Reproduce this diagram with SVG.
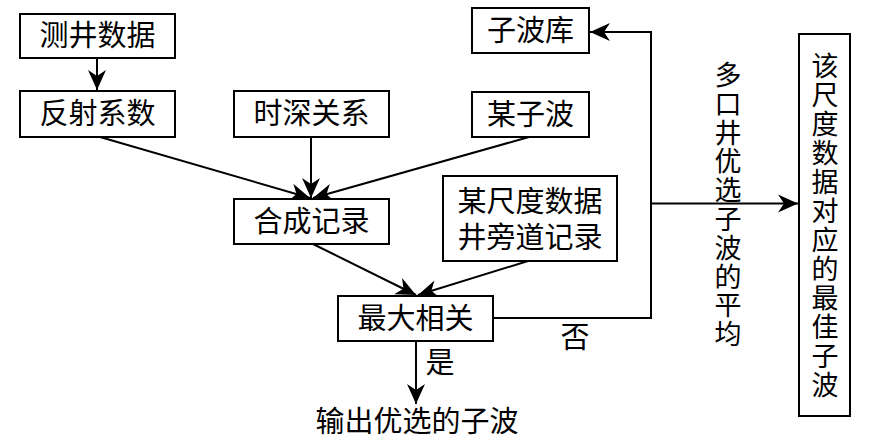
<svg xmlns="http://www.w3.org/2000/svg" width="874" height="445" viewBox="0 0 874 445">
<style>
.box{fill:#fff;stroke:#000;stroke-width:2}
.t{font-family:"Liberation Serif","Noto Sans CJK SC",serif;font-size:29px;fill:#000;text-anchor:middle;dominant-baseline:central}
.v{font-size:27px}
.c{fill:none;stroke:#000;stroke-width:2}
</style>
<defs>
<marker id="ah" markerUnits="userSpaceOnUse" markerWidth="24" markerHeight="22" viewBox="-22 -11 24 22" refX="0" refY="0" orient="auto">
<path d="M0,0 L-20,-9 L-14,0 L-20,9 Z" fill="#000"/>
</marker>
</defs>
<rect width="874" height="445" fill="#fff"/>
<g id="connectors">
<line class="c" x1="97" y1="58" x2="97" y2="90" marker-end="url(#ah)"/>
<line class="c" x1="100" y1="137" x2="310" y2="198" marker-end="url(#ah)"/>
<line class="c" x1="311" y1="137" x2="311" y2="198" marker-end="url(#ah)"/>
<line class="c" x1="529" y1="137" x2="313" y2="198" marker-end="url(#ah)"/>
<line class="c" x1="313" y1="244" x2="416" y2="295" marker-end="url(#ah)"/>
<line class="c" x1="528" y1="261" x2="418" y2="295" marker-end="url(#ah)"/>
<polyline class="c" points="493,318 651,318 651,32 590,32" marker-end="url(#ah)"/>
<line class="c" x1="651" y1="203.5" x2="798" y2="203.5" marker-end="url(#ah)"/>
<line class="c" x1="416" y1="341" x2="416" y2="404" marker-end="url(#ah)"/>
</g>
<g id="n1"><rect class="box" x="20" y="14" width="155" height="44"/><text class="t" x="97.5" y="36">测井数据</text></g>
<g id="n2"><rect class="box" x="20" y="91" width="155" height="46"/><text class="t" x="97.5" y="114">反射系数</text></g>
<g id="n3"><rect class="box" x="234" y="91" width="155" height="46"/><text class="t" x="311.5" y="114">时深关系</text></g>
<g id="n4"><rect class="box" x="472" y="8" width="117" height="45"/><text class="t" x="530.5" y="30.5">子波库</text></g>
<g id="n5"><rect class="box" x="472" y="92" width="117" height="45"/><text class="t" x="530.5" y="114.5">某子波</text></g>
<g id="n6"><rect class="box" x="234" y="199" width="155" height="45"/><text class="t" x="311.5" y="221.5">合成记录</text></g>
<g id="n7"><rect class="box" x="443" y="176" width="174" height="85"/><text class="t" x="530" y="201.5">某尺度数据</text><text class="t" x="530" y="237.5">井旁道记录</text></g>
<g id="n8"><rect class="box" x="338" y="296" width="155" height="45"/><text class="t" x="415.5" y="318.5">最大相关</text></g>
<g id="n9"><text class="t" x="417" y="422">输出优选的子波</text></g>
<g id="n10"><rect class="box" x="799" y="34" width="51" height="382"/>
<text class="t v"><tspan x="825" y="66.5">该</tspan><tspan x="825" y="95.5">尺</tspan><tspan x="825" y="124.5">度</tspan><tspan x="825" y="153.5">数</tspan><tspan x="825" y="182.5">据</tspan><tspan x="825" y="211.5">对</tspan><tspan x="825" y="240.5">应</tspan><tspan x="825" y="269.5">的</tspan><tspan x="825" y="298.5">最</tspan><tspan x="825" y="327.5">佳</tspan><tspan x="825" y="356.5">子</tspan><tspan x="825" y="385.5">波</tspan></text>
</g>
<g id="labels">
<text class="t" x="440" y="363">是</text>
<text class="t" x="575" y="338">否</text>
<text class="t v"><tspan x="728" y="76">多</tspan><tspan x="728" y="104.8">口</tspan><tspan x="728" y="133.6">井</tspan><tspan x="728" y="162.4">优</tspan><tspan x="728" y="191.2">选</tspan><tspan x="728" y="220">子</tspan><tspan x="728" y="248.8">波</tspan><tspan x="728" y="277.6">的</tspan><tspan x="728" y="306.4">平</tspan><tspan x="728" y="335.2">均</tspan></text>
</g>
</svg>
